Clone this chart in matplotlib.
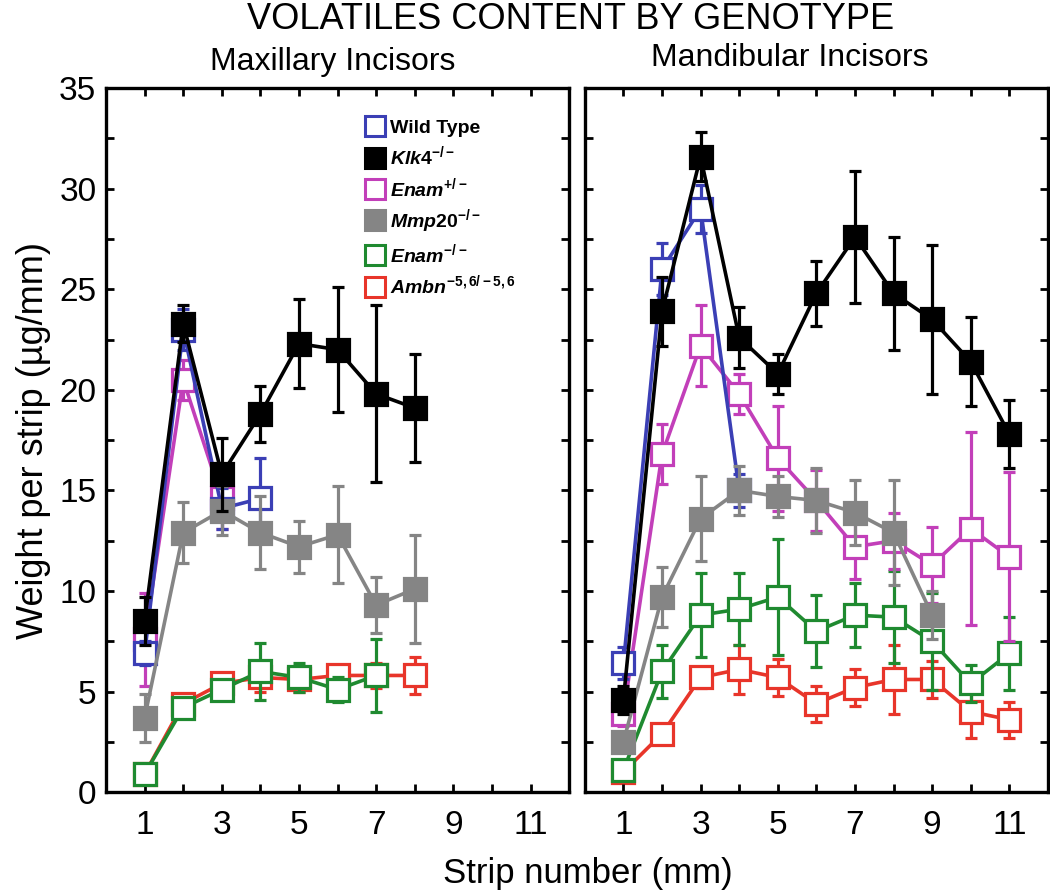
import matplotlib
matplotlib.use("Agg")
import matplotlib.pyplot as plt
from matplotlib.lines import Line2D
from matplotlib.ticker import MultipleLocator

plt.rcParams['font.family'] = ['Liberation Sans', 'DejaVu Sans']
plt.rcParams['mathtext.fontset'] = 'custom'
plt.rcParams['mathtext.rm'] = 'Liberation Sans:bold'
plt.rcParams['mathtext.it'] = 'Liberation Sans:italic:bold'

genotypes = ["Wild Type", r"$\mathit{Klk4}^{-/-}$", r"$\mathit{Enam}^{+/-}$",
             r"$\mathit{Mmp20}^{-/-}$", r"$\mathit{Enam}^{-/-}$", r"$\mathit{Ambn}^{-5,6/-5,6}$"]
colours = ['#3b3fb5', 'black', '#c23fb9', '#858585', '#1f8a30', '#e8352a']
filled = [False, True, False, True, False, False]
zorders = [4, 7, 3, 5, 2, 1]

# maxillary incisors: strips, means, errors
max_x = [[1, 2, 3, 4],
         [1, 2, 3, 4, 5, 6, 7, 8],
         [1, 2, 3],
         [1, 2, 3, 4, 5, 6, 7, 8],
         [1, 2, 3, 4, 5, 6, 7],
         [1, 2, 3, 4, 5, 6, 7, 8]]
max_y = [[6.9, 23.0, 14.1, 14.6],
         [8.5, 23.3, 15.8, 18.8, 22.3, 22.0, 19.8, 19.1],
         [7.6, 20.5, 14.6],
         [3.7, 12.9, 14.0, 12.9, 12.2, 12.8, 9.3, 10.1],
         [0.9, 4.2, 5.1, 6.0, 5.7, 5.1, 5.8],
         [0.9, 4.4, 5.4, 5.7, 5.6, 5.8, 5.8, 5.8]]
max_e = [[0.6, 1.0, 1.0, 2.0],
         [1.2, 0.9, 1.8, 1.4, 2.2, 3.1, 4.4, 2.7],
         [2.3, 1.0, 1.5],
         [1.2, 1.5, 1.2, 1.8, 1.3, 2.4, 1.4, 2.7],
         [0.3, 0.5, 0.4, 1.4, 0.7, 0.6, 1.8],
         [0.2, 0.3, 0.4, 0.7, 0.6, 0.5, 0.6, 0.9]]

# mandibular incisors
man_x = [[1, 2, 3, 4],
         [1, 2, 3, 4, 5, 6, 7, 8, 9, 10, 11],
         [1, 2, 3, 4, 5, 6, 7, 8, 9, 10, 11],
         [1, 2, 3, 4, 5, 6, 7, 8, 9],
         [1, 2, 3, 4, 5, 6, 7, 8, 9, 10, 11],
         [1, 2, 3, 4, 5, 6, 7, 8, 9, 10, 11]]
man_y = [[6.4, 26.0, 29.0, 15.0],
         [4.6, 23.9, 31.6, 22.6, 20.8, 24.8, 27.6, 24.8, 23.5, 21.4, 17.8],
         [3.9, 16.8, 22.2, 19.8, 16.6, 14.5, 12.2, 12.5, 11.3, 13.1, 11.7],
         [2.5, 9.7, 13.6, 15.0, 14.7, 14.5, 13.9, 12.9, 8.8],
         [1.1, 6.0, 8.8, 9.1, 9.7, 8.0, 8.8, 8.7, 7.5, 5.4, 6.9],
         [1.0, 2.9, 5.7, 6.1, 5.7, 4.4, 5.2, 5.6, 5.6, 4.0, 3.6]]
man_e = [[0.8, 1.3, 1.2, 0.8],
         [0.7, 1.7, 1.2, 1.5, 1.0, 1.6, 3.3, 2.8, 3.7, 2.2, 1.7],
         [0.6, 1.5, 2.0, 1.0, 2.6, 1.5, 1.6, 1.4, 1.9, 4.8, 4.2],
         [0.5, 1.5, 2.1, 1.2, 1.0, 1.6, 1.6, 2.6, 1.2],
         [0.4, 1.3, 2.1, 1.8, 2.9, 1.8, 1.6, 2.3, 2.4, 0.9, 1.8],
         [0.3, 0.5, 0.5, 1.2, 0.9, 0.9, 0.9, 1.7, 0.9, 1.3, 0.9]]

fig = plt.figure(figsize=(10.5, 8.91), dpi=100)
ax1 = fig.add_axes([0.101, 0.111, 0.441, 0.790])
ax2 = fig.add_axes([0.557, 0.111, 0.441, 0.790], sharey=ax1)

for ax, xs, ys, es in [(ax1, max_x, max_y, max_e), (ax2, man_x, man_y, man_e)]:
    for i in range(len(genotypes)):
        c = colours[i]
        ax.errorbar(xs[i], ys[i], yerr=es[i], fmt='none', ecolor=c, elinewidth=2.3,
                    capsize=4.5, capthick=2.3, zorder=zorders[i])
        ax.plot(xs[i], ys[i], color=c, lw=2.6, marker='s', ms=16,
                mfc=c if filled[i] else 'white', mec=c, mew=2.3, zorder=zorders[i] + 0.5)
    ax.set_xlim(0, 12)
    ax.set_ylim(0, 35)
    ax.set_xticks([1, 3, 5, 7, 9, 11])
    ax.xaxis.set_minor_locator(MultipleLocator(1))
    ax.yaxis.set_major_locator(MultipleLocator(5))
    ax.yaxis.set_minor_locator(MultipleLocator(2.5))
    ax.tick_params(which='both', direction='in', top=True, right=True,
                   length=6, width=2)
    ax.tick_params(axis='x', labelsize=24, pad=13)
    ax.tick_params(axis='y', labelsize=24, pad=7)
    for s in ax.spines.values():
        s.set_linewidth(2.4)

plt.setp(ax2.get_yticklabels(), visible=False)

ax1.set_ylabel("Weight per strip (\u00b5g/mm)", fontsize=26, labelpad=6)
fig.text(0.560, 0.020, "Strip number (mm)", ha='center', va='center', fontsize=25)
fig.text(0.543, 0.978, "VOLATILES CONTENT BY GENOTYPE", ha='center', va='center', fontsize=26)
fig.text(0.317, 0.930, "Maxillary Incisors", ha='center', va='center', fontsize=23)
fig.text(0.752, 0.935, "Mandibular Incisors", ha='center', va='center', fontsize=23)

handles = [Line2D([], [], ls='none', marker='s', ms=15, mec=colours[i], mew=2.2,
                  mfc=colours[i] if filled[i] else 'white') for i in range(len(genotypes))]
leg = ax1.legend(handles, genotypes, loc='upper left', bbox_to_anchor=(0.53, 0.975),
                 frameon=False, handlelength=1.0, handletextpad=0.3,
                 labelspacing=0.38, borderpad=0.2,
                 prop={'weight': 'bold', 'size': 14})

fig.savefig("out.png", dpi=100)
